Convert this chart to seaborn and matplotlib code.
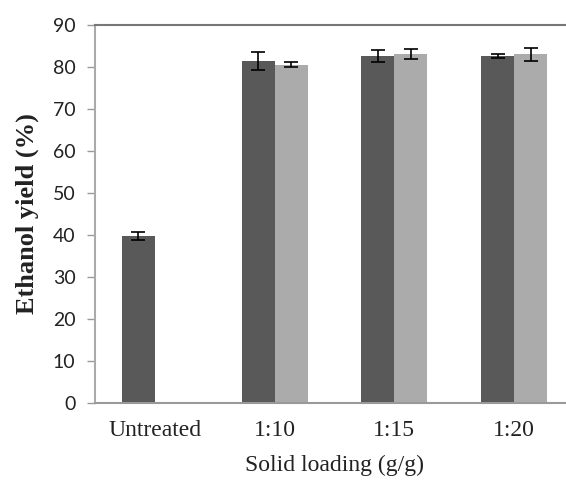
import numpy as np
import pandas as pd
import matplotlib
matplotlib.use("Agg")
import matplotlib.pyplot as plt
import seaborn as sns

categories = ["Untreated", "1:10", "1:15", "1:20"]
series_names = ["A", "B"]
series_a = [39.8, 81.5, 82.6, 82.6]
series_b = [np.nan, 80.5, 83.0, 83.0]
err_a = [1.0, 2.1, 1.5, 0.5]
err_b = [np.nan, 0.6, 1.2, 1.6]
y_ticks = [0, 10, 20, 30, 40, 50, 60, 70, 80, 90]

df = pd.DataFrame({
    "cat": categories * 2,
    "series": [series_names[0]] * 4 + [series_names[1]] * 4,
    "val": series_a + series_b,
    "err": err_a + err_b,
})

sns.set_style("white")
fig = plt.figure(figsize=(5.66, 4.88), dpi=100)
ax = fig.add_axes([95 / 566, 85 / 488, 479 / 566, 378 / 488])

sns.barplot(data=df, x="cat", y="val", hue="series", order=categories,
            hue_order=series_names, palette=["#595959", "#ababab"],
            width=0.55, gap=0, errorbar=None, legend=False, ax=ax,
            saturation=1, linewidth=0)

# error bars at bar centers, matched to data per hue container
for cont, vals, errs in zip(ax.containers, [series_a, series_b], [err_a, err_b]):
    valid = [(v, e) for v, e in zip(vals, errs) if not np.isnan(v)]
    for p, (v, e) in zip(cont.patches, valid):
        cx = p.get_x() + p.get_width() / 2
        ax.errorbar(cx, p.get_height(), yerr=e, color="black", capsize=5,
                    capthick=1.2, elinewidth=1.2, fmt="none", zorder=5)

ax.set_xlim(-0.5, 3.5)
ax.set_ylim(0, 90)
ax.set_yticks(y_ticks)
ax.set_yticklabels([str(t) for t in y_ticks], family="Lato", fontsize=14,
                   color="#222222")
ax.set_xticks(range(len(categories)))
ax.set_xticklabels(categories, family="Liberation Serif", fontsize=17,
                   color="#222222")
ax.tick_params(axis="y", length=6, width=1, color="#999999", direction="out",
               left=True, pad=8)
ax.tick_params(axis="x", length=0, pad=12)

ax.spines["right"].set_visible(False)
ax.spines["top"].set_color("#777777")
ax.spines["top"].set_linewidth(1.5)
ax.spines["left"].set_color("#aaaaaa")
ax.spines["left"].set_linewidth(1.5)
ax.spines["bottom"].set_color("#999999")
ax.spines["bottom"].set_linewidth(1.5)

ax.set_xlabel("Solid loading (g/g)", family="Liberation Serif", fontsize=17,
              color="#222222", labelpad=10)
ax.set_ylabel("Ethanol yield (%)", family="Liberation Serif", fontsize=19,
              fontweight="bold", color="#222222", labelpad=10)

fig.savefig("out.png", dpi=100)
